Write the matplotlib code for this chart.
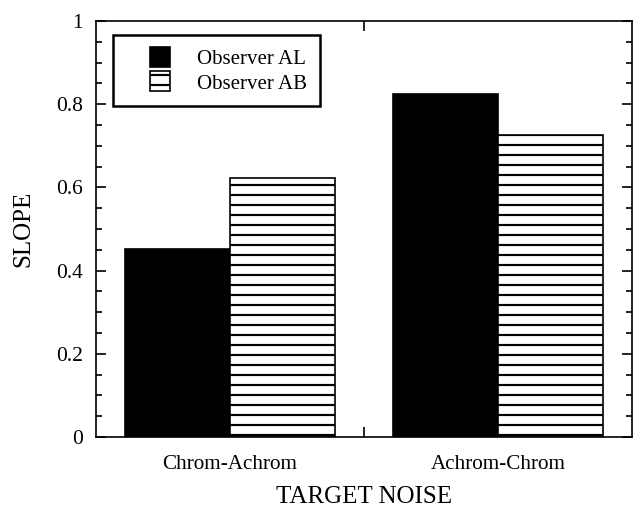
import matplotlib
matplotlib.use("Agg")
import matplotlib.pyplot as plt
from matplotlib.patches import Rectangle
from matplotlib.legend_handler import HandlerPatch
from matplotlib.ticker import MultipleLocator, FixedLocator, FuncFormatter

# data
conditions = ["Chrom-Achrom", "Achrom-Chrom"]
slope_al = [0.451, 0.824]
slope_ab = [0.622, 0.726]
observers = ["Observer AL", "Observer AB"]

plt.rcParams['font.family'] = ['Liberation Serif', 'DejaVu Serif']
plt.rcParams['hatch.linewidth'] = 1.3
plt.rcParams['hatch.color'] = 'black'

DPI = 120
fig = plt.figure(figsize=(633 / DPI, 508 / DPI), dpi=DPI)
ax = fig.add_axes([96 / 633, 1 - 437 / 508, 536 / 633, 416 / 508])

x = list(range(len(conditions)))
w = 0.39
ax.bar([i - w / 2 for i in x], slope_al, width=w, color='black',
       edgecolor='black', linewidth=1)
ax.bar([i + w / 2 for i in x], slope_ab, width=w, color='white',
       edgecolor='black', linewidth=1, hatch='--')

ax.set_xlim(-0.5, 1.5)
ax.set_ylim(0, 1)

ax.set_xticks(x)
ax.set_xticklabels(conditions, fontsize=12.7)
ax.xaxis.set_minor_locator(FixedLocator([0.5]))
ax.tick_params(axis='x', which='major', length=0, pad=11)
ax.tick_params(axis='x', which='minor', direction='in', length=6,
               top=True, bottom=True, width=1)

ax.yaxis.set_major_locator(MultipleLocator(0.2))
ax.yaxis.set_minor_locator(MultipleLocator(0.05))
ax.yaxis.set_major_formatter(FuncFormatter(lambda v, p: f"{v:g}" if abs(v) > 1e-9 else "0"))
ax.tick_params(axis='y', which='major', direction='in', length=6, width=1,
               left=True, right=True, pad=8, labelsize=12.9)
ax.tick_params(axis='y', which='minor', direction='in', length=3.5, width=1,
               left=True, right=True)

for s in ax.spines.values():
    s.set_linewidth(1)

ax.set_ylabel("SLOPE", fontsize=15, labelpad=13)
ax.set_xlabel("TARGET NOISE", fontsize=15, labelpad=7)


def small_box(legend, orig_handle, xdescent, ydescent, width, height, fontsize):
    side = 20 * 72 / DPI
    return Rectangle((-xdescent + width - side, -ydescent + height / 2 - side / 2),
                     side, side)


proxies = [Rectangle((0, 0), 1, 1, facecolor='black', edgecolor='black', linewidth=1),
           Rectangle((0, 0), 1, 1, facecolor='white', edgecolor='black', linewidth=1,
                     hatch='--')]
leg = ax.legend(proxies, observers, loc='upper left',
                bbox_to_anchor=((113 - 96) / 536, (437 - 35) / 416),
                borderaxespad=0, fontsize=12.5, fancybox=False, edgecolor='black',
                framealpha=1, handlelength=2.15, handleheight=1.0, handletextpad=1.3,
                borderpad=0.6, labelspacing=0.15,
                handler_map={Rectangle: HandlerPatch(patch_func=small_box)})
leg.get_frame().set_linewidth(1.5)

fig.savefig("out.png", dpi=DPI)
